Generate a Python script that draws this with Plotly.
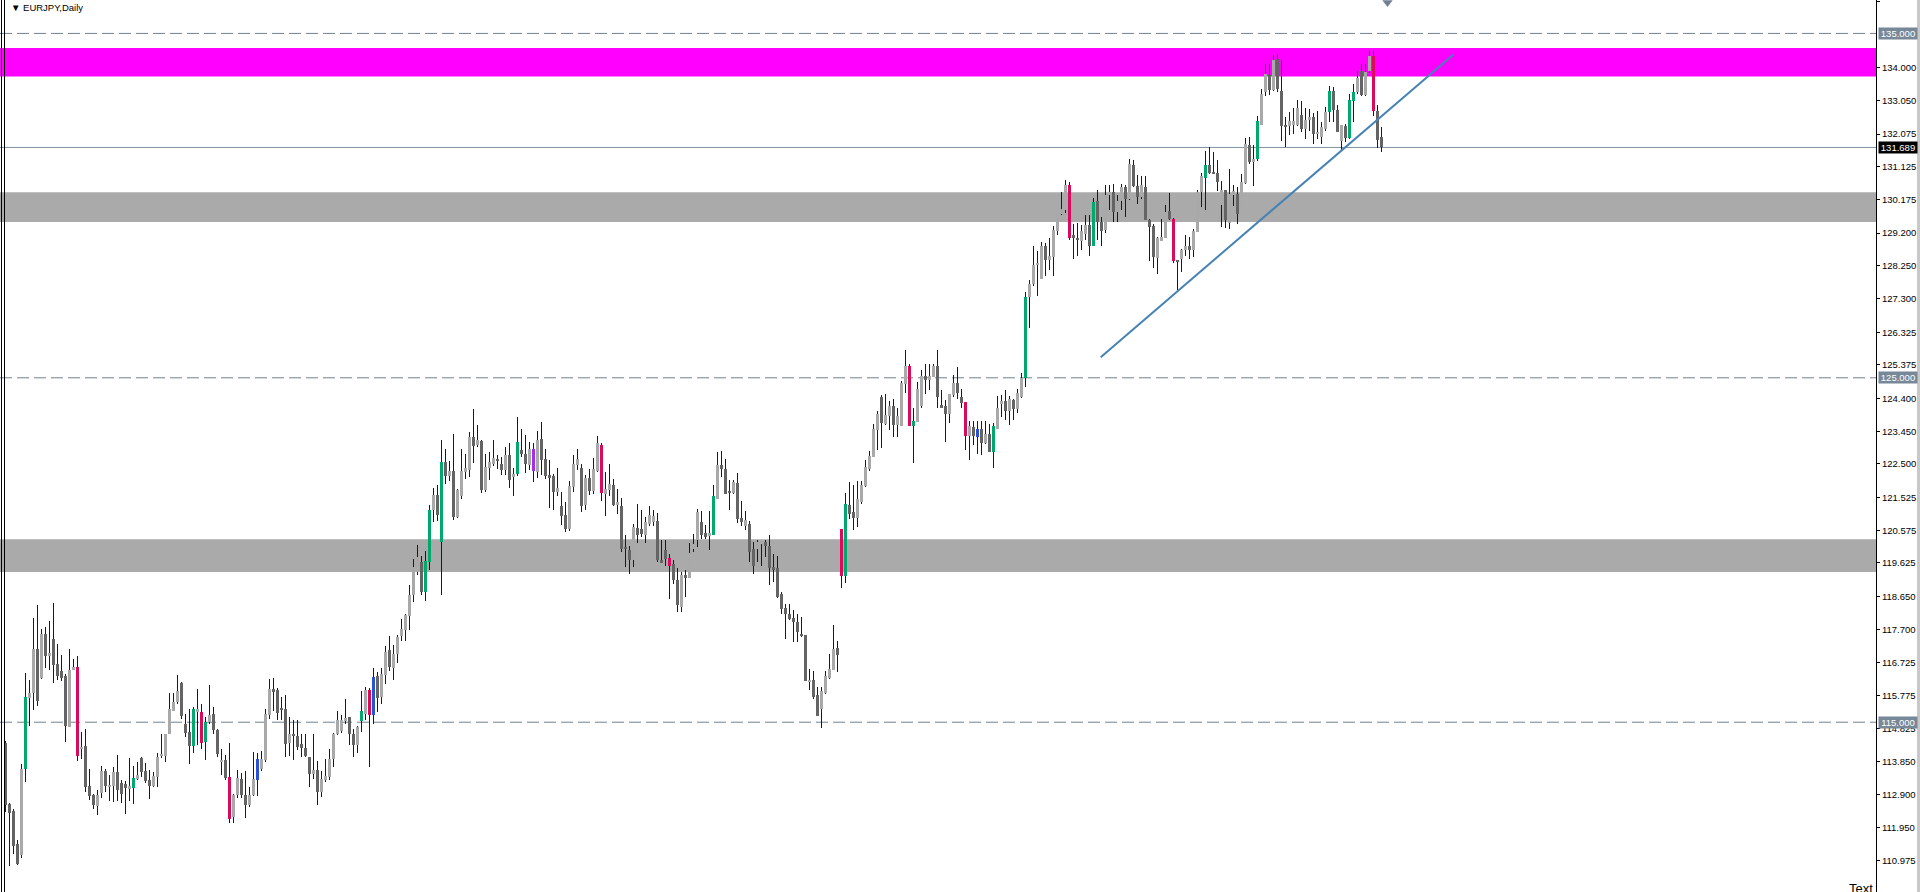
import plotly.graph_objects as go

# EURJPY daily bars, oldest first
opens = [
    114.40, 112.62, 112.42, 111.47, 111.13, 113.63, 115.70, 115.85, 117.14, 116.29,
    117.55, 116.92, 117.41, 116.68, 116.48, 116.33, 114.86, 116.51, 116.59, 114.21,
    114.30, 113.14, 112.88, 112.57, 112.94, 113.57, 113.12, 113.14, 113.54, 113.23,
    113.21, 113.06, 113.08, 113.35, 113.95, 113.57, 113.31, 113.15, 113.41, 114.03,
    114.01, 114.67, 115.34, 115.59, 116.14, 114.96, 114.73, 114.31, 115.32, 115.29,
    114.42, 115.01, 115.23, 114.76, 113.84, 113.89, 113.40, 112.25, 112.88, 113.36,
    112.90, 112.59, 112.88, 113.31, 113.63, 113.90, 115.20, 115.96, 115.93, 115.41,
    115.38, 114.40, 114.67, 114.60, 114.38, 114.25, 113.99, 113.50, 113.60, 112.98,
    113.33, 113.41, 113.94, 114.67, 114.75, 115.06, 115.14, 114.67, 114.33, 115.04,
    115.25, 115.93, 115.20, 116.33, 115.73, 116.37, 117.09, 116.58, 116.97, 117.49,
    117.69, 118.08, 118.68, 119.35, 119.65, 118.78, 119.65, 121.15, 121.59, 120.23,
    122.56, 122.14, 122.29, 120.96, 121.56, 122.27, 122.31, 123.28, 123.04, 123.16,
    121.73, 122.38, 122.49, 122.64, 122.49, 122.31, 122.75, 122.12, 122.20, 122.89,
    122.78, 122.46, 122.29, 122.27, 123.21, 122.65, 122.17, 122.14, 121.68, 121.27,
    121.01, 120.60, 121.83, 122.46, 122.38, 121.30, 122.09, 121.70, 122.28, 123.04,
    121.62, 121.75, 121.88, 121.30, 121.27, 120.09, 119.99, 119.70, 120.64, 120.62,
    120.45, 120.75, 120.81, 120.83, 119.70, 120.01, 119.77, 119.58, 119.12, 118.35,
    119.26, 119.19, 120.04, 120.28, 120.81, 120.50, 120.40, 120.45, 121.49, 122.46,
    122.36, 121.68, 121.66, 121.95, 120.93, 120.69, 120.76, 120.04, 120.04, 120.18,
    120.23, 120.13, 119.51, 119.48, 118.71, 118.31, 118.15, 118.03, 117.91, 117.55,
    117.52, 116.19, 116.23, 115.78, 115.39, 115.85, 116.28, 116.53, 117.15, 120.60,
    119.25, 121.30, 121.10, 120.93, 121.39, 121.86, 122.36, 122.70, 123.48, 124.44,
    123.67, 123.88, 124.17, 123.62, 123.60, 124.83, 125.34, 123.60, 123.72, 124.18,
    125.04, 124.95, 125.02, 125.34, 124.20, 124.17, 123.94, 124.49, 124.85, 124.44,
    124.30, 123.30, 123.57, 123.28, 123.50, 123.12, 123.36, 122.85, 123.52, 124.23,
    124.32, 124.04, 124.35, 124.10, 124.44, 124.99, 127.34, 127.71, 128.29, 127.88,
    128.82, 128.41, 128.51, 129.26, 129.76, 129.86, 130.59, 129.14, 129.06, 128.96,
    129.18, 129.43, 128.84, 130.13, 129.52, 129.28, 130.30, 130.39, 129.81, 130.13,
    130.54, 130.20, 131.17, 130.56, 130.25, 130.54, 129.57, 129.40, 128.49, 128.97,
    129.07, 129.84, 129.62, 128.43, 128.46, 128.70, 128.84, 128.70, 129.23, 130.39,
    130.80, 131.17, 130.96, 130.95, 130.01, 130.44, 129.49, 130.32, 130.35, 129.91,
    130.65, 131.75, 131.29, 131.34, 132.33, 133.30, 133.78, 133.37, 134.26, 133.34,
    132.33, 132.30, 132.33, 132.33, 132.62, 132.21, 132.49, 132.57, 132.07, 131.99,
    132.23, 132.71, 133.34, 132.78, 131.89, 132.30, 131.96, 133.05, 133.30, 133.90,
    133.20, 133.90, 134.33, 132.76, 131.99,
]
highs = [
    114.45, 112.66, 112.49, 111.57, 113.78, 116.43, 116.22, 118.04, 118.39, 117.70,
    117.76, 117.93, 118.45, 117.26, 116.96, 116.41, 117.14, 116.84, 116.91, 114.73,
    114.81, 113.63, 112.92, 113.02, 113.73, 113.63, 113.46, 113.70, 114.04, 113.31,
    113.28, 113.95, 113.72, 113.84, 113.99, 113.83, 113.60, 113.54, 114.12, 114.67,
    114.67, 115.84, 115.84, 116.36, 116.17, 115.23, 115.39, 115.44, 115.95, 115.54,
    115.15, 116.07, 115.44, 114.81, 114.23, 114.04, 114.40, 112.92, 113.62, 113.52,
    113.58, 113.12, 114.14, 114.12, 114.17, 115.37, 116.25, 116.29, 115.98, 115.72,
    115.78, 115.15, 115.06, 115.06, 114.67, 114.67, 113.99, 114.67, 113.87, 113.58,
    113.92, 114.21, 114.69, 115.32, 115.22, 115.67, 115.15, 114.80, 114.89, 115.91,
    116.02, 115.98, 116.56, 116.46, 116.56, 117.20, 117.49, 117.23, 117.52, 117.99,
    118.15, 118.97, 119.75, 120.16, 119.82, 119.96, 121.30, 121.80, 121.88, 123.18,
    122.92, 122.58, 123.36, 121.78, 122.92, 122.78, 123.43, 124.08, 123.62, 123.18,
    122.78, 122.85, 123.18, 122.75, 122.70, 122.99, 123.12, 122.38, 123.86, 123.50,
    123.33, 123.13, 123.11, 123.45, 123.72, 122.92, 122.60, 122.22, 122.39, 121.68,
    121.39, 121.99, 122.75, 122.92, 122.51, 122.19, 122.35, 122.67, 123.30, 123.12,
    122.27, 122.51, 122.05, 121.76, 121.51, 120.43, 120.11, 120.76, 121.33, 121.15,
    120.96, 121.27, 121.15, 121.08, 120.30, 120.30, 119.89, 119.70, 119.48, 119.36,
    119.43, 120.21, 120.47, 121.18, 121.12, 120.72, 121.12, 121.88, 122.85, 122.87,
    122.63, 122.02, 122.02, 122.25, 121.42, 121.12, 120.84, 120.23, 120.28, 120.30,
    120.30, 120.43, 119.89, 119.82, 118.78, 118.42, 118.42, 118.25, 118.15, 118.05,
    117.52, 116.54, 116.48, 116.02, 116.02, 116.50, 116.97, 117.81, 117.35, 120.60,
    121.65, 121.97, 121.88, 122.00, 122.00, 122.60, 122.87, 123.65, 124.05, 124.49,
    124.52, 124.33, 124.39, 124.12, 124.91, 125.80, 125.39, 124.12, 124.88, 125.22,
    125.41, 125.39, 125.39, 125.80, 124.64, 124.35, 124.52, 125.07, 125.31, 124.68,
    124.30, 123.74, 123.74, 123.74, 123.74, 123.74, 123.67, 123.69, 124.46, 124.49,
    124.64, 124.46, 124.38, 124.68, 125.14, 127.49, 127.85, 128.82, 128.67, 128.94,
    128.91, 129.07, 129.40, 130.10, 130.39, 130.73, 130.68, 129.47, 129.49, 129.43,
    129.72, 129.74, 130.23, 130.46, 129.67, 130.59, 130.59, 130.64, 130.30, 130.64,
    130.59, 131.36, 131.31, 130.88, 130.85, 130.85, 129.62, 129.47, 129.09, 129.62,
    130.01, 130.36, 129.65, 128.43, 128.75, 129.15, 129.09, 129.33, 130.44, 130.94,
    131.60, 131.70, 131.56, 131.31, 130.71, 130.44, 131.07, 130.59, 130.54, 130.93,
    131.95, 132.00, 131.75, 132.60, 133.39, 134.12, 134.12, 134.38, 134.41, 134.22,
    132.57, 132.73, 132.84, 133.07, 133.05, 132.84, 132.81, 132.69, 132.74, 132.42,
    132.86, 133.47, 133.44, 132.91, 132.33, 132.38, 133.25, 133.54, 133.91, 134.12,
    134.12, 134.48, 134.48, 132.91, 132.28,
]
lows = [
    112.40, 110.82, 111.18, 110.84, 111.06, 113.26, 114.89, 115.36, 115.47, 116.26,
    116.57, 116.51, 116.14, 116.22, 116.20, 114.42, 114.86, 116.51, 113.87, 113.94,
    112.97, 112.75, 112.49, 112.30, 112.81, 112.97, 112.71, 112.69, 112.71, 112.66,
    112.34, 112.71, 112.63, 113.31, 113.41, 113.24, 112.77, 113.12, 113.12, 113.97,
    113.85, 114.65, 115.32, 115.52, 115.08, 114.57, 113.78, 114.10, 114.33, 114.22,
    113.91, 114.96, 114.67, 113.99, 113.46, 113.31, 112.08, 112.08, 112.81, 112.81,
    112.23, 112.54, 112.86, 112.87, 113.59, 113.85, 115.09, 115.33, 115.06, 115.06,
    113.99, 114.01, 113.90, 114.19, 113.99, 113.99, 113.12, 113.36, 112.61, 112.83,
    113.27, 113.31, 113.70, 114.62, 114.70, 114.96, 114.33, 113.99, 114.11, 114.72,
    115.06, 113.70, 114.96, 115.30, 115.54, 116.10, 116.49, 116.23, 116.72, 117.35,
    117.36, 117.67, 118.49, 119.26, 118.68, 118.52, 119.41, 120.81, 120.84, 118.68,
    121.93, 122.00, 120.88, 120.94, 121.49, 122.07, 122.12, 122.53, 122.99, 121.66,
    121.68, 122.02, 122.43, 122.36, 122.17, 122.17, 121.80, 121.57, 122.14, 122.70,
    122.24, 122.33, 121.97, 122.10, 122.17, 122.07, 121.22, 121.15, 121.57, 120.72,
    120.52, 120.55, 121.68, 122.31, 121.10, 121.15, 121.59, 121.64, 122.27, 121.41,
    120.99, 121.57, 121.27, 121.04, 119.94, 119.51, 119.31, 119.51, 120.20, 120.38,
    120.20, 120.69, 120.69, 119.65, 119.62, 119.55, 118.57, 119.00, 118.20, 118.20,
    118.63, 119.19, 119.94, 120.09, 120.33, 120.33, 119.99, 120.43, 121.49, 122.12,
    121.62, 121.15, 121.64, 120.78, 120.69, 120.57, 119.65, 119.31, 119.65, 119.54,
    119.80, 118.99, 119.07, 118.61, 118.15, 117.43, 117.96, 117.33, 117.33, 117.47,
    116.20, 115.93, 115.68, 115.17, 114.83, 115.83, 116.26, 116.51, 116.46, 118.91,
    119.04, 120.91, 120.59, 120.67, 121.35, 121.83, 122.29, 122.70, 122.91, 122.97,
    123.62, 123.48, 123.28, 123.28, 123.60, 124.56, 123.60, 122.53, 123.72, 124.13,
    124.52, 124.64, 125.02, 124.13, 124.13, 123.14, 123.69, 124.44, 124.39, 124.13,
    122.89, 122.60, 123.04, 122.78, 122.75, 123.09, 122.85, 122.39, 123.52, 123.86,
    123.77, 123.62, 123.78, 123.98, 124.41, 124.73, 126.45, 127.68, 127.39, 127.88,
    127.97, 128.12, 127.96, 129.14, 129.74, 129.78, 128.99, 128.46, 128.55, 128.70,
    128.99, 128.53, 128.82, 128.99, 128.82, 129.20, 129.86, 129.52, 129.52, 129.86,
    129.67, 130.17, 130.54, 130.05, 130.20, 129.57, 128.39, 128.20, 128.02, 128.97,
    129.07, 129.57, 128.33, 127.54, 128.07, 128.55, 128.46, 128.51, 129.23, 129.96,
    129.88, 130.93, 130.93, 130.42, 129.38, 129.36, 129.33, 129.98, 129.47, 129.91,
    130.64, 131.22, 130.57, 131.30, 132.33, 133.17, 133.20, 133.34, 133.30, 131.87,
    131.70, 132.04, 132.09, 132.30, 132.13, 131.94, 132.18, 131.80, 131.94, 131.80,
    132.16, 132.43, 132.43, 132.13, 131.60, 131.84, 131.94, 132.43, 133.25, 133.17,
    133.17, 133.85, 132.59, 131.68, 131.55,
]
closes = [
    112.59, 112.36, 111.42, 110.89, 113.65, 115.73, 115.86, 117.12, 115.62, 117.55,
    116.92, 117.00, 116.66, 116.33, 116.29, 114.89, 116.53, 116.60, 114.01, 114.28,
    113.12, 112.86, 112.61, 112.88, 113.57, 113.14, 113.17, 113.54, 113.04, 112.92,
    113.08, 113.14, 113.37, 113.46, 113.54, 113.29, 113.15, 113.43, 113.99, 114.07,
    114.65, 115.37, 115.58, 115.92, 115.18, 114.70, 114.31, 115.37, 115.37, 114.40,
    115.01, 115.21, 114.76, 114.09, 113.91, 113.39, 112.19, 112.90, 113.39, 112.88,
    112.59, 112.90, 113.34, 113.92, 113.92, 115.25, 115.96, 115.88, 115.27, 115.35,
    114.38, 114.67, 114.60, 114.28, 114.25, 114.01, 113.50, 113.60, 112.98, 113.34,
    113.43, 113.94, 114.67, 115.06, 115.06, 115.11, 114.67, 114.33, 114.86, 115.32,
    115.93, 115.22, 116.30, 115.70, 116.39, 117.03, 116.60, 116.99, 117.47, 117.72,
    118.10, 118.68, 119.51, 119.80, 118.78, 119.67, 121.17, 121.59, 121.01, 122.56,
    122.14, 122.29, 120.96, 121.73, 122.29, 122.37, 123.28, 123.02, 123.20, 121.73,
    122.41, 122.55, 122.68, 122.58, 122.31, 122.75, 122.02, 122.20, 123.13, 122.80,
    122.49, 122.92, 122.92, 123.18, 122.60, 122.14, 122.09, 121.68, 121.80, 120.98,
    120.62, 121.85, 122.49, 122.63, 121.27, 122.09, 121.70, 122.34, 123.11, 121.66,
    121.76, 121.91, 121.30, 121.39, 120.04, 120.03, 119.70, 120.67, 120.43, 120.47,
    120.81, 121.01, 120.98, 119.70, 119.65, 119.75, 119.55, 119.12, 118.39, 119.28,
    119.20, 119.91, 120.18, 121.10, 120.45, 120.38, 120.50, 121.56, 122.46, 122.34,
    121.62, 121.66, 121.97, 120.91, 120.81, 120.86, 119.94, 119.55, 120.23, 120.28,
    120.12, 119.48, 119.41, 118.63, 118.28, 118.15, 118.01, 117.91, 117.62, 117.49,
    116.20, 116.23, 115.73, 115.17, 115.90, 116.33, 116.55, 117.13, 116.94, 119.25,
    121.33, 121.04, 120.93, 121.49, 121.90, 122.41, 122.72, 123.50, 123.94, 123.69,
    123.91, 124.17, 123.62, 123.88, 124.85, 125.34, 123.60, 123.74, 124.68, 125.04,
    124.95, 125.04, 125.34, 124.44, 124.13, 123.94, 124.52, 124.85, 124.56, 124.27,
    123.30, 123.59, 123.30, 123.50, 123.11, 123.36, 122.85, 123.59, 124.12, 124.32,
    124.04, 124.39, 124.10, 124.56, 124.99, 127.36, 127.71, 128.29, 128.34, 128.82,
    128.41, 128.53, 129.28, 130.10, 129.91, 130.59, 129.07, 129.06, 128.99, 129.26,
    129.43, 128.84, 130.10, 129.52, 129.26, 130.30, 130.39, 129.81, 130.13, 130.54,
    130.20, 131.22, 130.56, 130.25, 130.59, 129.57, 129.38, 128.51, 129.06, 129.09,
    129.81, 129.62, 128.39, 128.36, 128.70, 128.84, 128.70, 129.25, 130.39, 130.85,
    131.17, 130.94, 130.93, 130.70, 130.44, 129.57, 130.35, 130.42, 129.76, 130.68,
    131.78, 131.27, 131.34, 132.45, 133.23, 133.81, 133.37, 134.23, 133.40, 132.30,
    132.30, 132.47, 132.47, 132.84, 132.21, 132.50, 132.57, 132.09, 132.15, 132.28,
    132.72, 133.34, 132.78, 132.15, 132.33, 131.96, 133.08, 133.31, 133.70, 133.20,
    133.88, 134.34, 132.74, 131.91, 131.69,
]

# bars highlighted by the indicator
green_bars = [5, 32, 47, 50, 89, 105, 106, 109, 128, 177, 210, 227, 247, 255, 272,
              300, 313, 331, 336, 337]
red_bars = [18, 49, 56, 91, 149, 166, 209, 226, 240, 266, 292, 342]
blue_bars = [63, 92, 243]
purple_bars = [132]

# horizontal levels, zones and trend line
round_levels = [135.0, 125.0, 115.0]
bid_price = 131.689
supply_zone = [133.752, 134.573]
gray_zones = [[129.523, 130.385], [119.363, 120.312]]
trend_x = [273.8, 362.0]
trend_y = [125.60, 134.39]
arrow_x = [345.5]
arrow_y = [135.90]

tick_vals = [135.925, 134.000, 133.050, 132.075, 131.125, 130.175, 129.200, 128.250,
             127.300, 126.325, 125.375, 124.400, 123.450, 122.500, 121.525, 120.575,
             119.625, 118.650, 117.700, 116.725, 115.775, 114.825, 113.850, 112.900,
             111.950, 110.975]

W, H = 1920, 892
PLOT_W = 1876
FONT = "Liberation Sans"

n = len(closes)
xs = list(range(n))

colors = []
for i in range(n):
    if i in green_bars:
        c = "#00a86b"
    elif i in red_bars:
        c = "#dc0a5a"
    elif i in blue_bars:
        c = "#2a52d6"
    elif i in purple_bars:
        c = "#a32ef0"
    elif closes[i] >= opens[i]:
        c = "#a9a9a9"
    else:
        c = "#646464"
    colors.append(c)

body_base = [min(o, c) for o, c in zip(opens, closes)]
body_h = [max(abs(c - o), 0.03) for o, c in zip(opens, closes)]
wick_h = [h - l for h, l in zip(highs, lows)]

fig = go.Figure()

# wicks
fig.add_trace(go.Bar(
    x=xs, y=wick_h, base=lows, width=0.25,
    marker=dict(color="#14143c", line=dict(width=0)),
    hoverinfo="skip", showlegend=False
))
# bodies
fig.add_trace(go.Bar(
    x=xs, y=body_h, base=body_base, width=0.75,
    marker=dict(color=colors, line=dict(width=0)),
    hoverinfo="skip", showlegend=False
))
# trend line
fig.add_trace(go.Scatter(
    x=trend_x, y=trend_y, mode="lines",
    line=dict(color="#4682b4", width=2),
    hoverinfo="skip", showlegend=False
))
# arrow at top
fig.add_trace(go.Scatter(
    x=arrow_x, y=arrow_y, mode="markers",
    marker=dict(symbol="triangle-down", size=9, color="#708090"),
    hoverinfo="skip", showlegend=False
))

shapes = []
shapes.append(dict(type="rect", xref="paper", yref="y", x0=0, x1=1,
                   y0=supply_zone[0], y1=supply_zone[1],
                   fillcolor="#ff00ff", line=dict(width=0), layer="below"))
for z in gray_zones:
    shapes.append(dict(type="rect", xref="paper", yref="y", x0=0, x1=1,
                       y0=z[0], y1=z[1], fillcolor="#aaaaaa",
                       line=dict(width=0), layer="below"))
for lv in round_levels:
    shapes.append(dict(type="line", xref="paper", yref="y", x0=0, x1=1,
                       y0=lv, y1=lv, layer="below",
                       line=dict(color="#708090", width=1, dash="12px,5px")))
shapes.append(dict(type="line", xref="paper", yref="y", x0=0, x1=1,
                   y0=bid_price, y1=bid_price, layer="below",
                   line=dict(color="#8090a0", width=1)))
# window frame
for px in (1.5, 4.5):
    shapes.append(dict(type="line", xref="paper", yref="paper",
                       x0=px / PLOT_W, x1=px / PLOT_W, y0=0, y1=1,
                       line=dict(color="black", width=1)))
shapes.append(dict(type="rect", xref="paper", yref="paper",
                   x0=1917 / PLOT_W, x1=1920 / PLOT_W, y0=0, y1=1,
                   fillcolor="#c8c8c8", line=dict(width=0)))

annotations = []
for lv in round_levels:
    annotations.append(dict(
        x=1, xref="paper", xanchor="left", xshift=2, y=lv, yref="y",
        text=f"{lv:.3f}", showarrow=False, bgcolor="#778899",
        font=dict(family=FONT, size=9.5, color="white"),
        width=38, borderpad=0
    ))
annotations.append(dict(
    x=1, xref="paper", xanchor="left", xshift=2, y=bid_price, yref="y",
    text=f"{bid_price:.3f}", showarrow=False, bgcolor="black",
    font=dict(family=FONT, size=9.5, color="white"),
    width=38, borderpad=0
))
annotations.append(dict(
    x=9 / PLOT_W, xref="paper", xanchor="left", y=1 - 7.5 / H, yref="paper",
    yanchor="middle", text="▼ EURJPY,Daily", showarrow=False,
    font=dict(family=FONT, size=9.5, color="black")
))
annotations.append(dict(
    x=1875 / PLOT_W, xref="paper", xanchor="right", y=1 - 879 / H, yref="paper",
    yanchor="top", text="Text", showarrow=False,
    font=dict(family=FONT, size=13, color="black")
))

fig.update_layout(
    width=W, height=H,
    margin=dict(l=0, r=W - PLOT_W, t=0, b=0),
    paper_bgcolor="white", plot_bgcolor="white",
    barmode="overlay", bargap=0,
    shapes=shapes, annotations=annotations,
    showlegend=False,
    xaxis=dict(range=[-1.375, 467.625], visible=False, fixedrange=True),
    yaxis=dict(
        range=[110.07, 135.97], side="right", showgrid=False, zeroline=False,
        tickmode="array", tickvals=tick_vals,
        ticktext=[f"{v:.3f}" for v in tick_vals],
        ticks="outside", ticklen=3, tickcolor="black",
        showline=True, linecolor="black", linewidth=1,
        tickfont=dict(family=FONT, size=9.5, color="black"),
        automargin=False, fixedrange=True
    ),
)

# page body margin would push the chart off the window edges
fig.write_html(
    "out.html",
    config={"displayModeBar": False},
    post_script="document.body.style.margin='0';document.body.style.overflow='hidden';",
)
